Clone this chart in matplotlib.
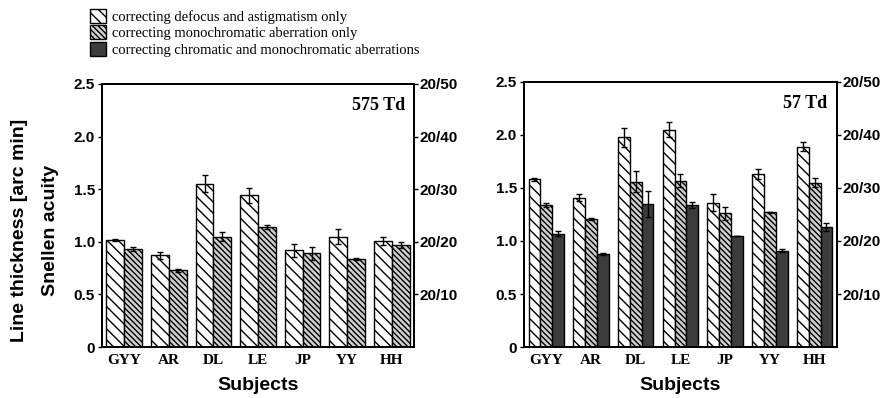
import numpy as np
import matplotlib
matplotlib.use('Agg')
import matplotlib.pyplot as plt
from matplotlib.patches import Patch

# Data
subjects = ['GYY', 'AR', 'DL', 'LE', 'JP', 'YY', 'HH']

# 575 Td panel (two conditions)
hi_defocus = [1.02, 0.87, 1.55, 1.44, 0.92, 1.05, 1.01]
hi_defocus_err = [0.01, 0.03, 0.08, 0.07, 0.06, 0.07, 0.04]
hi_mono = [0.93, 0.73, 1.05, 1.14, 0.89, 0.84, 0.97]
hi_mono_err = [0.02, 0.015, 0.04, 0.015, 0.06, 0.01, 0.025]

# 57 Td panel (three conditions)
lo_defocus = [1.58, 1.41, 1.98, 2.05, 1.36, 1.63, 1.89]
lo_defocus_err = [0.01, 0.03, 0.09, 0.07, 0.08, 0.05, 0.04]
lo_mono = [1.34, 1.21, 1.56, 1.57, 1.26, 1.27, 1.55]
lo_mono_err = [0.02, 0.01, 0.10, 0.06, 0.06, 0.005, 0.04]
lo_chrom = [1.07, 0.88, 1.35, 1.34, 1.05, 0.91, 1.13]
lo_chrom_err = [0.02, 0.01, 0.12, 0.03, 0.0, 0.01, 0.04]

left_ticks = [0, 0.5, 1.0, 1.5, 2.0, 2.5]
left_labels = ['0', '0.5', '1.0', '1.5', '2.0', '2.5']
snellen_ticks = [0.5, 1.0, 1.5, 2.0, 2.5]
snellen_labels = ['20/10', '20/20', '20/30', '20/40', '20/50']

legend_labels = ['correcting defocus and astigmatism only',
                 'correcting monochromatic aberration only',
                 'correcting chromatic and monochromatic aberrations']

sans = 'Liberation Sans'
serif = 'Liberation Serif'
plt.rcParams['hatch.linewidth'] = 1.0

styles = [dict(facecolor='white', edgecolor='black', hatch='\\' * 3),
          dict(facecolor='#d0d0d0', edgecolor='black', hatch='\\' * 6),
          dict(facecolor='#3c3c3c', edgecolor='black', hatch=None)]

fig = plt.figure(figsize=(8.88, 3.98), dpi=100)
ax1 = fig.add_axes([0.1149, 0.1281, 0.3514, 0.661])
ax2 = fig.add_axes([0.590, 0.1281, 0.3525, 0.666])

x = np.arange(len(subjects))


def style_axes(ax, tag):
    ax.set_xlim(-0.5, len(subjects) - 0.5)
    ax.set_ylim(0, 2.5)
    ax.set_yticks(left_ticks)
    ax.set_yticklabels(left_labels, fontfamily=sans, fontweight='bold', fontsize=11)
    ax.set_xticks(x)
    ax.set_xticklabels(subjects, fontfamily=serif, fontweight='bold', fontsize=11)
    ax.tick_params(axis='x', length=0, pad=5)
    ax.tick_params(axis='y', length=3, width=1, pad=2)
    for s in ax.spines.values():
        s.set_linewidth(1.4)
    ax.text(0.97, 0.95, tag, transform=ax.transAxes, ha='right', va='top',
            fontfamily=serif, fontweight='bold', fontsize=13)
    ax.set_xlabel('Subjects', fontfamily=sans, fontweight='bold', fontsize=14, labelpad=7)
    tw = ax.twinx()
    tw.set_ylim(0, 2.5)
    tw.set_yticks(snellen_ticks)
    tw.set_yticklabels(snellen_labels, fontfamily=sans, fontweight='bold', fontsize=11)
    tw.tick_params(axis='y', length=3, width=1, pad=1)
    for s in tw.spines.values():
        s.set_linewidth(1.4)


# left panel: two bars
w = 0.4
ax1.bar(x - w / 2, hi_defocus, w, linewidth=1, **styles[0])
ax1.bar(x + w / 2, hi_mono, w, linewidth=1, **styles[1])
ax1.errorbar(x - w / 2, hi_defocus, yerr=hi_defocus_err, fmt='none', ecolor='black', elinewidth=1, capsize=2.5)
ax1.errorbar(x + w / 2, hi_mono, yerr=hi_mono_err, fmt='none', ecolor='black', elinewidth=1, capsize=2.5)
style_axes(ax1, '575 Td')

# right panel: three bars
w = 0.265
for off, vals, errs, st in [(-w, lo_defocus, lo_defocus_err, styles[0]),
                            (0, lo_mono, lo_mono_err, styles[1]),
                            (w, lo_chrom, lo_chrom_err, styles[2])]:
    ax2.bar(x + off, vals, w, linewidth=1, **st)
    ax2.errorbar(x + off, vals, yerr=errs, fmt='none', ecolor='black', elinewidth=1, capsize=2.5)
style_axes(ax2, '57 Td')

# y labels (two lines, rotated)
fig.text(0.022, 0.42, 'Line thickness [arc min]', rotation=90, ha='center', va='center',
         fontfamily=sans, fontweight='bold', fontsize=14)
fig.text(0.057, 0.42, 'Snellen acuity', rotation=90, ha='center', va='center',
         fontfamily=sans, fontweight='bold', fontsize=14)

# legend at top left
handles = [Patch(linewidth=1, **st) for st in styles]
fig.legend(handles, legend_labels, loc='upper left', bbox_to_anchor=(0.092, 1.0),
           frameon=False, prop={'family': serif, 'size': 10.5}, handlelength=1.1,
           handleheight=1.1, handletextpad=0.4, labelspacing=0.12, borderaxespad=0.2)

fig.savefig('out.png', dpi=100)
